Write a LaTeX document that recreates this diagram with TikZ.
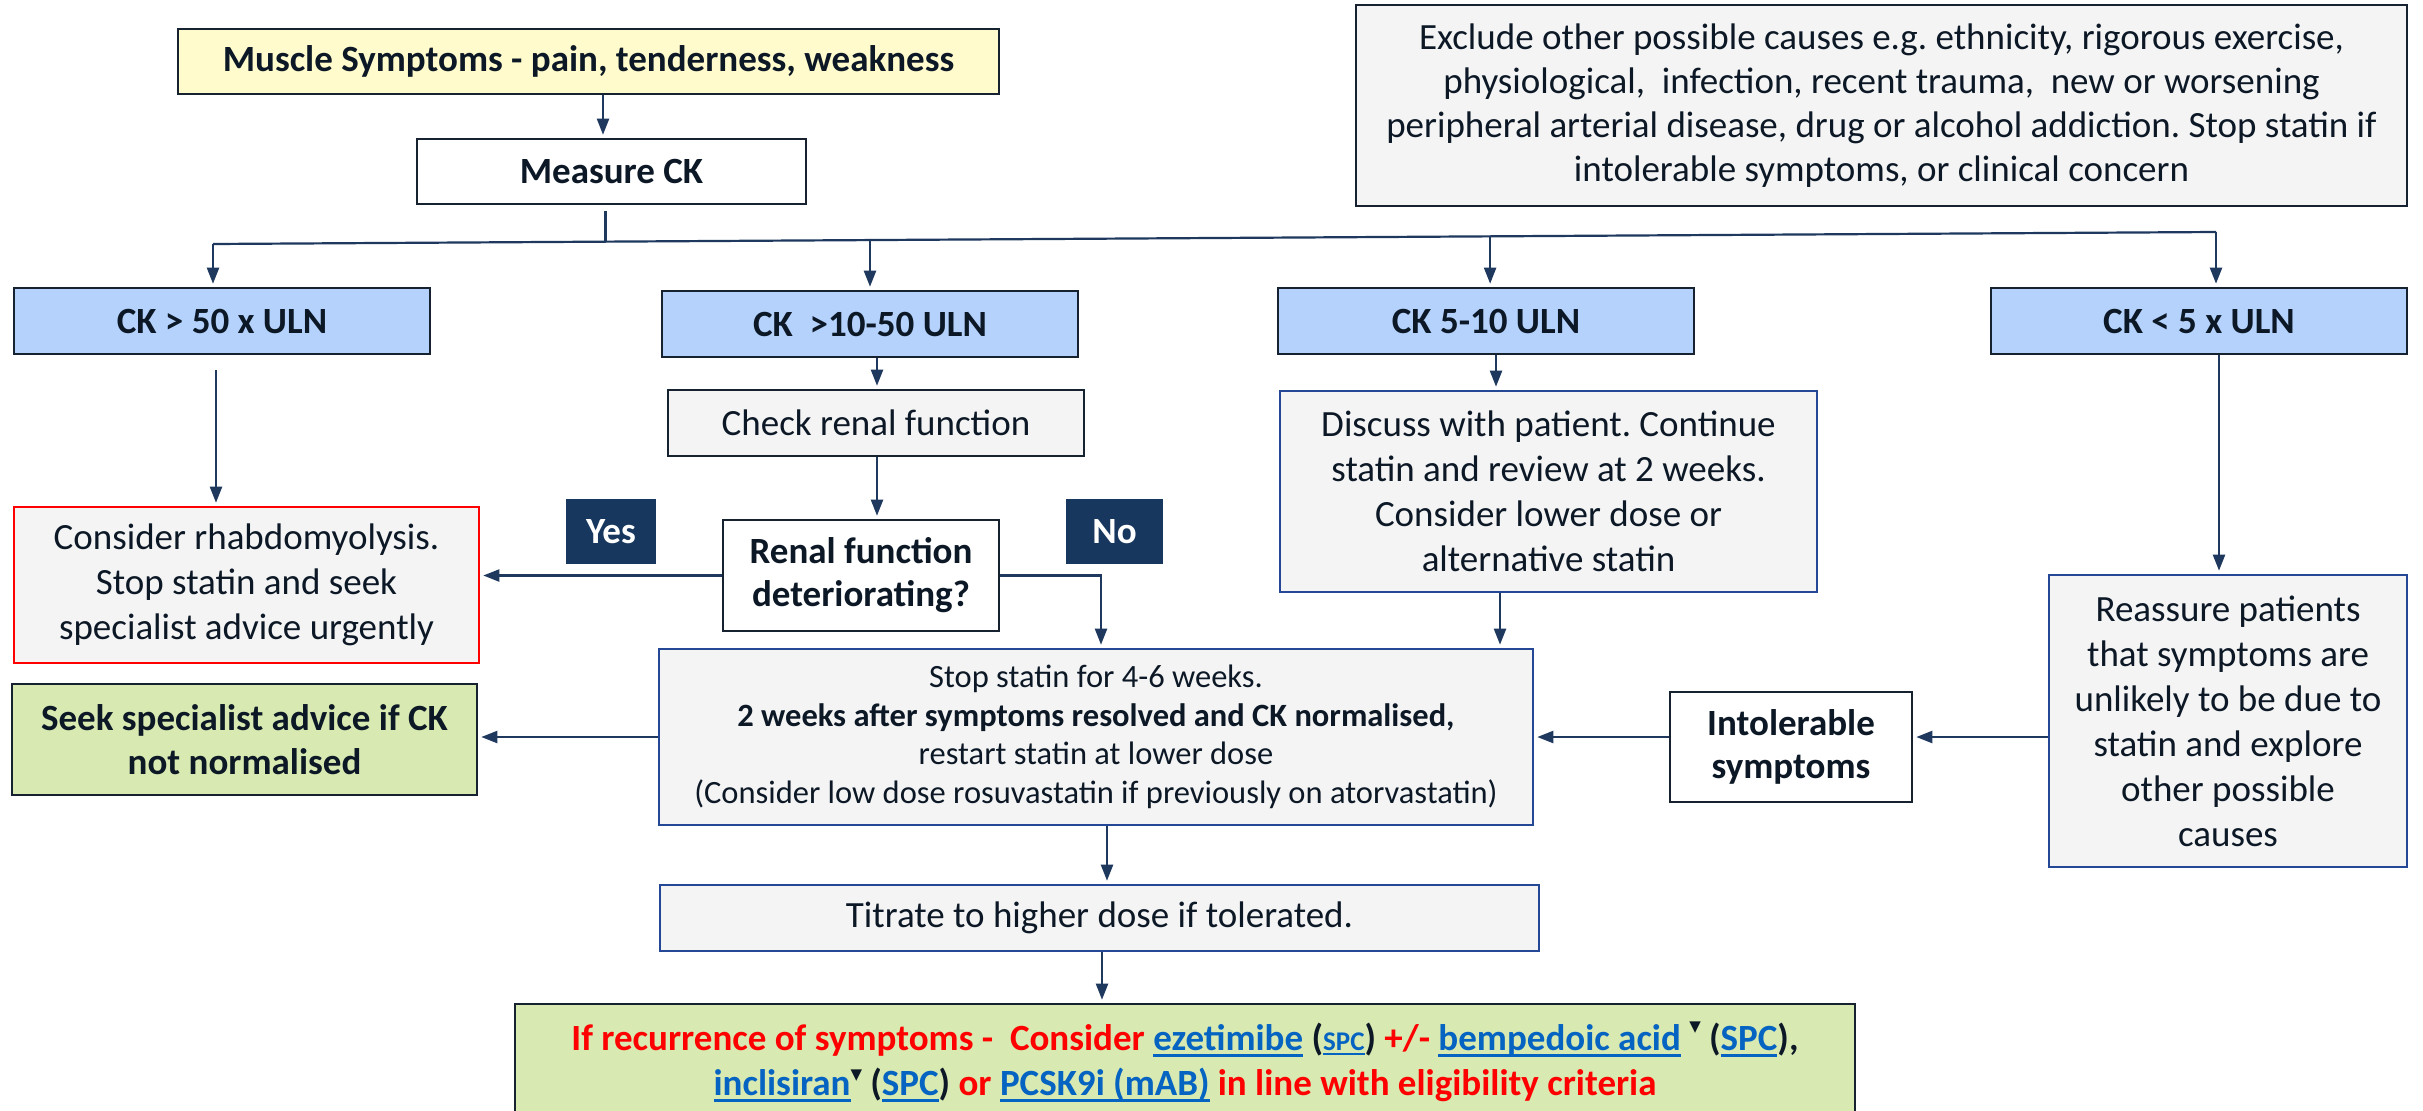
\documentclass[tikz,border=0pt]{standalone}
\usepackage{fontspec}
\setmainfont{Carlito}
\newfontfamily\symf{DejaVu Sans}
\usetikzlibrary{arrows.meta,calc}
\frenchspacing

\definecolor{ink}{RGB}{12,24,38}
\definecolor{edge}{RGB}{22,34,48}
\definecolor{blueedge}{RGB}{36,72,150}
\definecolor{conn}{RGB}{30,56,94}
\definecolor{navy}{RGB}{23,55,94}
\definecolor{yellowfill}{RGB}{255,251,204}
\definecolor{ckfill}{RGB}{180,210,252}
\definecolor{grayfill}{RGB}{244,244,244}
\definecolor{greenfill}{RGB}{216,234,178}
\definecolor{linkblue}{RGB}{5,99,193}
\definecolor{alertred}{RGB}{255,0,0}

% underlined hyperlink-style word
\newcommand\lnk[1]{{\color{linkblue}\setbox0=\hbox{#1}\rlap{\rule[-0.17em]{\wd0}{0.08em}}\box0}}
% black triangle marker
\newcommand\tri[1][0.42em]{\raisebox{#1}{\color{ink}\symf\fontsize{15}{15}\selectfont ▼}}
\newcommand\red[1]{{\color{alertred}#1}}

\begin{document}
\begin{tikzpicture}[x=1pt,y=-1pt,
  box/.style={draw=edge, line width=2.6pt, inner sep=0pt, align=center, text=ink,
              font=\fontsize{37}{45}\selectfont},
  bbox/.style={box, font=\bfseries\fontsize{37}{44}\selectfont},
  ckbox/.style={bbox, fill=ckfill, minimum width=416pt, minimum height=66pt},
  bluebox/.style={box, draw=blueedge, fill=grayfill},
  tag/.style={fill=navy, text=white, inner sep=0pt, font=\bfseries\fontsize{37}{40}\selectfont},
  conline/.style={draw=conn, line width=2.2pt},
  arr/.style={conline, -{Triangle[length=16pt,width=12pt]}, shorten >=3pt}
]
\clip (0,0) rectangle (2423,1111);
\fill[white] (0,0) rectangle (2423,1111);

% ---- top row ----
\node[bbox, fill=yellowfill, minimum width=821pt, minimum height=65pt] (sym) at (588.5,61.5)
  {Muscle Symptoms - pain, tenderness, weakness};
\node[bbox, fill=white, minimum width=389pt, minimum height=65pt] (meas) at (611.5,171.5)
  {Measure CK};
\node[box, fill=grayfill, minimum width=1051pt, minimum height=201pt, font=\fontsize{37}{44}\selectfont] (excl) at (1881.5,105.5)
  {Exclude other possible causes e.g. ethnicity, rigorous exercise,\\
   physiological,\ \ infection, recent trauma,\ \ new or worsening\\
   peripheral arterial disease, drug or alcohol addiction. Stop statin if\\
   intolerable symptoms, or clinical concern};

% ---- CK bands ----
\node[ckbox] (ck50) at (222,321) {CK > 50 x ULN};
\node[ckbox] (ck10) at (870,324) {CK\ \ >10-50 ULN};
\node[ckbox] (ck5)  at (1486,321) {CK 5-10 ULN};
\node[ckbox] (ck0)  at (2199,321) {CK < 5 x ULN};

% ---- middle ----
\node[box, fill=grayfill, minimum width=416pt, minimum height=66pt] (renal) at (876,423)
  {Check renal function};
\node[bbox, fill=white, minimum width=276pt, minimum height=111pt, font=\bfseries\fontsize{37}{43}\selectfont] (det) at (861,575.5)
  {Renal function\\deteriorating?};
\node[tag, minimum width=90pt, minimum height=65pt] (yes) at (611,531.5) {Yes};
\node[tag, minimum width=97pt, minimum height=65pt] (no) at (1114.5,531.5) {No};
\node[box, draw=alertred, fill=grayfill, minimum width=465pt, minimum height=156pt] (rhab) at (246.5,585)
  {Consider rhabdomyolysis.\\Stop statin and seek\\specialist advice urgently};
\node[bluebox, minimum width=537pt, minimum height=201pt] (disc) at (1548.5,491.5)
  {Discuss with patient. Continue\\statin and review at 2 weeks.\\Consider lower dose or\\alternative statin};
\node[bluebox, minimum width=358pt, minimum height=292pt] (reas) at (2228,721)
  {Reassure patients\\that symptoms are\\unlikely to be due to\\statin and explore\\other possible\\causes};

% ---- lower ----
\node[bluebox, minimum width=874pt, minimum height=176pt, font=\fontsize{32.5}{38.5}\selectfont] (stop) at (1096,737)
  {Stop statin for 4-6 weeks.\\
   \textbf{2 weeks after symptoms resolved and CK normalised,}\\
   restart statin at lower dose\\
   (Consider low dose rosuvastatin if previously on atorvastatin)};
\node[bbox, fill=white, minimum width=242pt, minimum height=110pt, font=\bfseries\fontsize{37}{43}\selectfont] (intol) at (1791,747)
  {Intolerable\\symptoms};
\node[bbox, fill=greenfill, minimum width=465pt, minimum height=111pt] (seek) at (244.5,739.5)
  {Seek specialist advice if CK\\not normalised};
\node[bluebox, minimum width=879pt, minimum height=66pt] (titr) at (1099.5,918)
  {Titrate to higher dose if tolerated.};
\node[bbox, fill=greenfill, minimum width=1340pt, minimum height=116pt, font=\bfseries\fontsize{37}{45}\selectfont] (bot) at (1185,1062)
  {\red{If recurrence of symptoms -\ \ Consider} \lnk{ezetimibe} ({\fontsize{27}{27}\selectfont\lnk{SPC}}) \red{+/-} \lnk{bempedoic acid}\ \tri[0.5em]\ (\lnk{SPC}),\\
   \lnk{inclisiran}\tri\ (\lnk{SPC}) \red{or} \lnk{PCSK9i (mAB)} \red{in line with eligibility criteria}};

% ---- connectors ----
\coordinate (a1) at (603,0);
\draw[arr] (sym.south -| a1) -- (meas.north -| a1);

\coordinate (busL) at (213,244);
\coordinate (busR) at (2216,232);
\coordinate (bm) at ($(busL)!0.196!(busR)$);
\coordinate (b10) at ($(busL)!0.328!(busR)$);
\coordinate (b5) at ($(busL)!0.6376!(busR)$);
\draw[conline] ([yshift=-6pt]meas.south -| bm) -- (bm);
\draw[conline] (busL) -- (busR);
\draw[arr] (busL) -- (busL |- ck50.north);
\draw[arr] (b10) -- (b10 |- ck10.north);
\draw[arr] (b5) -- (b5 |- ck5.north);
\draw[arr] (busR) -- (busR |- ck0.north);

\coordinate (c50) at (216,0);
\draw[arr] ([yshift=-15pt]ck50.south -| c50) -- (rhab.north -| c50);
\coordinate (c10) at (877,0);
\draw[arr] (ck10.south -| c10) -- (renal.north -| c10);
\draw[arr] (renal.south -| c10) -- (det.north -| c10);
\draw[arr] (det.west) -- (det.west -| rhab.east);
\coordinate (nox) at (1101,0);
\draw[arr] (det.east) -| (nox |- stop.north);

\coordinate (c5) at (1496,0);
\draw[arr] (ck5.south -| c5) -- (disc.north -| c5);
\coordinate (cd) at (1500,0);
\draw[arr] (disc.south -| cd) -- (stop.north -| cd);
\coordinate (c0) at (2219,0);
\draw[arr] (ck0.south -| c0) -- (reas.north -| c0);

\coordinate (ry) at (0,737);
\draw[arr] (reas.west |- ry) -- (intol.east |- ry);
\draw[arr] (intol.west |- ry) -- (stop.east |- ry);
\draw[arr] (stop.west |- ry) -- (seek.east |- ry);

\coordinate (ct) at (1107,0);
\draw[arr] (stop.south -| ct) -- (titr.north -| ct);
\coordinate (cb) at (1102,0);
\draw[arr] (titr.south -| cb) -- (bot.north -| cb);
\end{tikzpicture}
\end{document}
